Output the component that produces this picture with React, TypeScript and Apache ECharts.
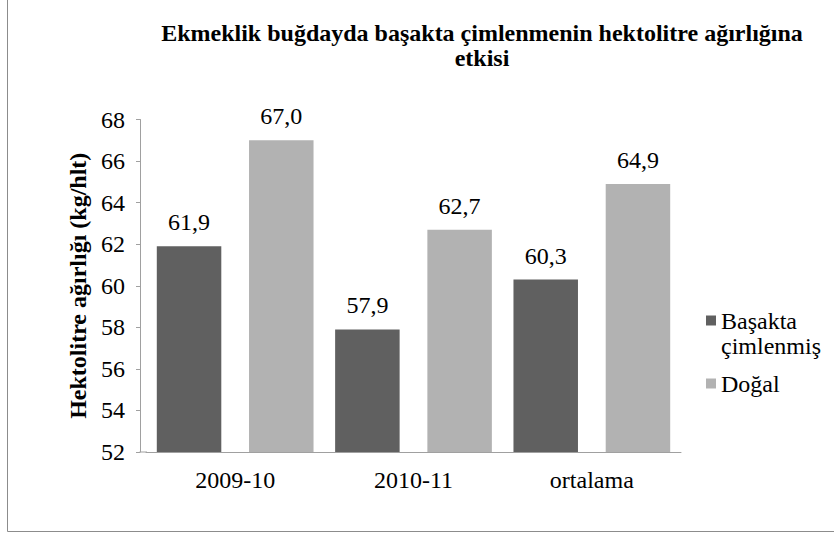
import React, { useEffect, useRef } from "react";
import * as echarts from "echarts";

const categories = ["2009-10", "2010-11", "ortalama"];
const seriesNames = ["Başakta çimlenmiş", "Doğal"];
const germinated = [61.9, 57.9, 60.3];
const natural = [67.0, 62.7, 64.9];
const titleText = "Ekmeklik buğdayda başakta çimlenmenin hektolitre ağırlığına\netkisi";
const yAxisName = "Hektolitre ağırlığı (kg/hlt)";

const FONT = "'Liberation Serif', 'Times New Roman', serif";

export default function App() {
  const ref = useRef<HTMLDivElement>(null);
  useEffect(() => {
    if (!ref.current) return;
    const chart = echarts.init(ref.current, undefined, { renderer: "svg" });
    const fmt = (p: any) => Number(p.value).toFixed(1).replace(".", ",");
    chart.setOption({
      animation: false,
      backgroundColor: "#ffffff",
      textStyle: { fontFamily: FONT, color: "#000" },
      title: {
        text: titleText,
        left: 482,
        top: 20,
        padding: 0,
        textAlign: "center",
        textStyle: {
          fontFamily: FONT,
          fontSize: 24,
          fontWeight: "bold",
          color: "#000",
          lineHeight: 25,
        },
      },
      legend: {
        orient: "vertical",
        left: 706,
        top: 283,
        padding: 0,
        itemWidth: 10,
        itemHeight: 10,
        itemGap: 13,
        icon: "rect",
        formatter: (name: string) => (name === seriesNames[0] ? "\nBaşakta\nçimlenmiş" : name),
        textStyle: { fontFamily: FONT, fontSize: 24, color: "#000", lineHeight: 25 },
        data: [seriesNames[0], seriesNames[1]],
      },
      grid: { left: 146, right: 153, top: 119.5, bottom: 82, containLabel: false },
      xAxis: {
        type: "category",
        data: categories,
        axisLine: { lineStyle: { color: "#a0a0a0", width: 1 } },
        axisTick: { show: false },
        axisLabel: { fontFamily: FONT, fontSize: 24, color: "#000", margin: 16 },
      },
      yAxis: {
        type: "value",
        min: 52,
        max: 68,
        interval: 2,
        offset: 6,
        name: yAxisName,
        nameLocation: "middle",
        nameGap: 47,
        nameTextStyle: { fontFamily: FONT, fontSize: 24, fontWeight: "bold", color: "#000" },
        axisLine: { show: true, lineStyle: { color: "#a0a0a0", width: 1 } },
        axisTick: { show: true, length: 4, lineStyle: { color: "#a0a0a0" } },
        splitLine: { show: false },
        axisLabel: { fontFamily: FONT, fontSize: 24, color: "#000", margin: 15 },
      },
      series: [
        {
          name: seriesNames[0],
          type: "bar",
          data: germinated,
          barWidth: 64.5,
          barGap: "43%",
          itemStyle: { color: "#606060" },
          label: { show: true, position: "top", distance: 12, formatter: fmt, fontFamily: FONT, fontSize: 24, color: "#000" },
        },
        {
          name: seriesNames[1],
          type: "bar",
          data: natural,
          barWidth: 64.5,
          barGap: "43%",
          itemStyle: { color: "#b2b2b2" },
          label: { show: true, position: "top", distance: 12, formatter: fmt, fontFamily: FONT, fontSize: 24, color: "#000" },
        },
      ],
      graphic: [
        { type: "line", shape: { x1: 139.5, y1: 452, x2: 147, y2: 452 }, style: { stroke: "#a0a0a0", lineWidth: 1 }, silent: true },
        { type: "line", shape: { x1: 7.5, y1: 0, x2: 7.5, y2: 531.5 }, style: { stroke: "#8c8c8c", lineWidth: 1 }, silent: true },
        { type: "line", shape: { x1: 7.5, y1: 531.5, x2: 834, y2: 531.5 }, style: { stroke: "#8c8c8c", lineWidth: 1 }, silent: true },
      ],
    });
    return () => chart.dispose();
  }, []);
  return (
    <div
      ref={ref}
      style={{ position: "fixed", left: 0, top: 0, width: 834, height: 534, background: "#fff" }}
    />
  );
}
